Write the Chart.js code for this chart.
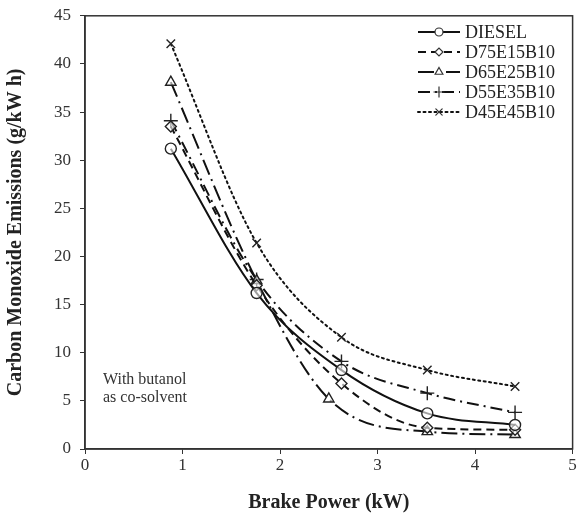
<!DOCTYPE html>
<html>
<head>
<meta charset="utf-8">
<script src="https://cdn.jsdelivr.net/npm/chart.js@4/dist/chart.umd.min.js"></script>
<style>
    html, body { margin: 0; padding: 0; background: #fff; }
    #wrap { width: 581px; height: 519px; }
</style>
</head>
<body>
<div id="wrap"><canvas id="co-chart"></canvas></div>
<script>
const seriesNames = ['DIESEL', 'D75E15B10', 'D65E25B10', 'D55E35B10', 'D45E45B10'];
const powerX = [0.88, 1.76, 2.63, 3.51, 4.41];
const powerXD65 = [0.88, 1.76, 2.50, 3.51, 4.41];
const diesel = [31.2, 16.2, 8.2, 3.7, 2.5];
const d75e15 = [33.5, 17.0, 6.8, 2.2, 2.0];
const d65e25 = [38.1, 17.5, 5.2, 1.8, 1.5];
const d55e35 = [34.1, 17.6, 9.1, 5.8, 3.8];
const d45e45 = [42.1, 21.4, 11.6, 8.2, 6.5];
const xTicks = [0, 1, 2, 3, 4, 5];
const yTicks = [0, 5, 10, 15, 20, 25, 30, 35, 40, 45];

const FONT = '"Liberation Serif", "Times New Roman", serif';

function pts(xs, ys) {
    return xs.map((x, i) => ({ x, y: ys[i] }));
}

const styles = [
    { dash: [], marker: 'circle', radius: 5.5 },
    { dash: [8, 5], marker: 'rectRot', radius: 5.5 },
    { dash: [16, 5, 2, 5], marker: 'triangle', radius: 6 },
    { dash: [12, 5, 2, 5], marker: 'cross', radius: 7 },
    { dash: [2, 3.5], marker: 'crossRot', radius: 6 }
];

const seriesData = [
    pts(powerX, diesel),
    pts(powerX, d75e15),
    pts(powerXD65, d65e25),
    pts(powerX, d55e35),
    pts(powerX, d45e45)
];

const datasets = seriesNames.map((name, i) => ({
    label: name,
    data: seriesData[i],
    borderColor: '#111',
    borderWidth: 2,
    borderDash: styles[i].dash,
    borderCapStyle: i === 4 ? 'round' : 'butt',
    cubicInterpolationMode: 'monotone',
    pointStyle: styles[i].marker,
    pointRadius: styles[i].radius,
    pointBorderWidth: 1.4,
    pointBorderColor: '#222',
    pointBackgroundColor: 'rgba(255,255,255,0.6)',
    fill: false
}));

// frame + in-plot legend + note
const extras = {
    id: 'extras',
    afterDraw(chart) {
        const { ctx, chartArea: a } = chart;
        ctx.save();
        ctx.strokeStyle = '#333';
        ctx.lineWidth = 1.5;
        ctx.strokeRect(a.left, a.top, a.right - a.left, a.bottom - a.top);

        // legend
        ctx.textBaseline = 'middle';
        datasets.forEach((ds, i) => {
            const y = 32 + i * 20;
            const x0 = 418, x1 = 460;
            ctx.strokeStyle = '#111';
            ctx.lineWidth = 2;
            ctx.lineCap = ds.borderCapStyle;
            ctx.setLineDash(ds.borderDash);
            ctx.beginPath();
            ctx.moveTo(x0, y);
            ctx.lineTo(x1, y);
            ctx.stroke();
            ctx.setLineDash([]);
            ctx.lineWidth = 1.2;
            ctx.strokeStyle = '#333';
            ctx.fillStyle = '#fff';
            Chart.helpers.drawPoint(ctx, {
                pointStyle: ds.pointStyle,
                radius: ds.pointRadius - 1.5,
                rotation: 0,
                borderWidth: 1.2
            }, (x0 + x1) / 2, y);
            ctx.font = '18px ' + FONT;
            ctx.fillStyle = '#222';
            ctx.fillText(ds.label, 465, y + 1);
        });

        ctx.font = '16px ' + FONT;
        ctx.fillStyle = '#333';
        ctx.fillText('With butanol', 103, 380);
        ctx.fillText('as co-solvent', 103, 398);
        ctx.restore();
    }
};

new Chart(document.getElementById('co-chart'), {
    type: 'line',
    data: { datasets },
    options: {
        responsive: true,
        maintainAspectRatio: false,
        animation: false,
        layout: { padding: { top: 15, right: 6, left: 0, bottom: 0 } },
        plugins: {
            legend: { display: false },
            tooltip: { enabled: false }
        },
        scales: {
            x: {
                type: 'linear',
                min: 0,
                max: 5,
                afterFit: s => { s.height = 70; },
                afterBuildTicks: s => { s.ticks = xTicks.map(v => ({ value: v })); },
                ticks: { color: '#333', font: { family: FONT, size: 17 }, padding: 1 },
                grid: { drawOnChartArea: false, tickLength: 5, color: '#333' },
                border: { color: '#333', width: 1.5 },
                title: {
                    display: true,
                    text: 'Brake Power (kW)',
                    color: '#222',
                    font: { family: FONT, size: 20, weight: 'bold' },
                    padding: { top: 14 }
                }
            },
            y: {
                min: 0,
                max: 45,
                afterFit: s => { s.width = 85; },
                afterBuildTicks: s => { s.ticks = yTicks.map(v => ({ value: v })); },
                ticks: { color: '#333', font: { family: FONT, size: 17, lineHeight: 0.8 }, padding: 9 },
                grid: { drawOnChartArea: false, tickLength: 5, color: '#333' },
                border: { color: '#333', width: 1.5 },
                title: {
                    display: true,
                    text: 'Carbon Monoxide Emissions (g/kW h)',
                    color: '#222',
                    font: { family: FONT, size: 20, weight: 'bold' },
                    padding: { bottom: 4 }
                }
            }
        }
    },
    plugins: [extras]
});
</script>
</body>
</html>
